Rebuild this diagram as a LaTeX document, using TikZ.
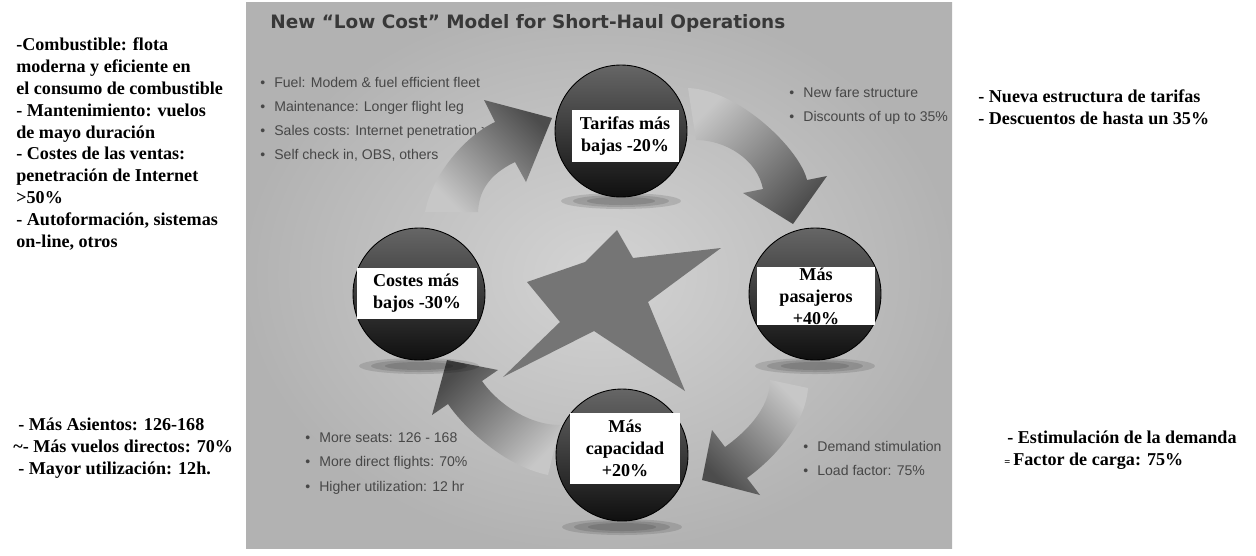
\documentclass[tikz,border=0pt]{standalone}
\usepackage{fontspec}
\setmainfont{Liberation Serif}
\setsansfont{Liberation Sans}
\newfontfamily\titlefont{DejaVu Sans}
\newcommand{\bul}[1]{\makebox[0.28cm][l]{\textbullet}#1}

\begin{document}
\begin{tikzpicture}[x=0.02cm, y=-0.02cm,
  ball/.style={circle,draw=black,line width=0.5pt,top color=black!60,bottom color=black!94,minimum size=2.64cm,inner sep=0pt},
  tag/.style={fill=white,inner sep=0pt,align=center,font=\fontsize{10.3}{12.6}\selectfont\bfseries},
  cue/.style={anchor=west,inner sep=0pt,align=left,text=black!72,font=\sffamily\fontsize{8}{13.7}\selectfont},
  note/.style={anchor=west,inner sep=0pt,align=left,font=\fontsize{10.3}{12.4}\selectfont\bfseries},
  heading/.style={anchor=west,inner sep=0pt,text=black!78,font={\titlefont\bfseries\fontsize{10.5}{12}\selectfont}},
  ground/.style={fill=black,opacity=0.12},
  sweep/.style={top color=black!70,bottom color=black!22}]

\fill[white] (0,0) rectangle (1256,555);
\useasboundingbox (0,0) rectangle (1256,555);
\shade[inner color=black!17,outer color=black!30] (246,2) rectangle (952,548);

\node[heading] (title) at (270,23) {New “Low Cost” Model for Short-Haul Operations};

\node[cue] (fuel) at (260,119) {\bul{Fuel: Modem \& fuel efficient fleet}\\\bul{Maintenance: Longer flight leg}\\\bul{Sales costs: Internet penetration >50\%}\\\bul{Self check in, OBS, others}};
\node[cue] (fare) at (789,106) {\bul{New fare structure}\\\bul{Discounts of up to 35\%}};
\node[cue] (seats) at (305,463.5) {\bul{More seats: 126 - 168}\\\bul{More direct flights: 70\%}\\\bul{Higher utilization: 12 hr}};
\node[cue] (demand) at (803,458) {\bul{Demand stimulation}\\\bul{Load factor: 75\%}};

\fill[black!54] (617,230) -- (633,258) -- (721,248) -- (648,302) -- (685,391) -- (594,331)
  -- (503,377) -- (560,322) -- (527,282) -- (585,262) -- cycle;

\shade[sweep,shading angle=-45] (425,212) .. controls (432,175) and (465,136) .. (495,122)
  -- (484,100) -- (552,118) -- (526,182) -- (515,162)
  .. controls (488,175) and (479,192) .. (478,212) -- cycle;
\shade[top color=black!22,bottom color=black!70,shading angle=45] (688,88) .. controls (740,90) and (800,150) .. (807,180)
  -- (827,176) -- (793,224) -- (743,193) -- (763,189)
  .. controls (757,159) and (725,140) .. (696,140) -- cycle;
\shade[top color=black!22,bottom color=black!70,shading angle=-45] (770,380) .. controls (770,410) and (743,434) .. (725,447)
  -- (712,430) -- (702,480) -- (760,495) -- (747,478)
  .. controls (765,465) and (805,430) .. (808,388) -- cycle;
\shade[sweep,shading angle=45] (560,425) .. controls (525,425) and (494,399) .. (482,381)
  -- (498,370) -- (447,360) -- (432,415) -- (448,404)
  .. controls (460,422) and (500,465) .. (548,475) -- cycle;

\foreach \cx/\cy in {621/201, 815/366, 419/366, 622/527}{
  \fill[ground] (\cx,\cy) ellipse [x radius=60, y radius=8];
  \fill[ground] (\cx,\cy) ellipse [x radius=48, y radius=6];
  \fill[ground] (\cx,\cy) ellipse [x radius=34, y radius=4];
}

\node[ball] (tarifas) at (621,131) {};
\node[ball] (pasajeros) at (815,294) {};
\node[ball] (capacidad) at (622,455) {};
\node[ball] (costes) at (419,294) {};

\node[tag,minimum width=2.14cm,minimum height=1.04cm] (tarifas-txt) at (625,136) {Tarifas más\\bajas -20\%};
\node[tag,minimum width=2.36cm,minimum height=1.14cm] (pasajeros-txt) at (816,296) {Más\\pasajeros\\+40\%};
\node[tag,minimum width=2.2cm,minimum height=1.42cm] (capacidad-txt) at (625,448) {Más\\capacidad\\+20\%};
\node[tag,align=left,minimum width=2.4cm,minimum height=1.02cm] (costes-txt) at (417,293) {Costes más\\bajos -30\%};

\node[note] (combustible) at (16,144) {-Combustible: flota\\moderna y eficiente en\\el consumo de combustible\\- Mantenimiento: vuelos\\de mayo duración\\- Costes de las ventas:\\penetración de Internet\\>50\%\\- Autoformación, sistemas\\on-line, otros};
\node[note] (estructura) at (978,107) {- Nueva estructura de tarifas\\- Descuentos de hasta un 35\%};
\node[note] (asientos) at (13,448) {\hspace*{.1cm}- Más Asientos: 126-168\\\textasciitilde- Más vuelos directos: 70\%\\\hspace*{.1cm}- Mayor utilización: 12h.};
\node[note] (estimulacion) at (1004,450) {\hspace*{.06cm}- Estimulación de la demanda\\{\fontsize{6}{6}\selectfont=}\,Factor de carga: 75\%};
\end{tikzpicture}
\end{document}
